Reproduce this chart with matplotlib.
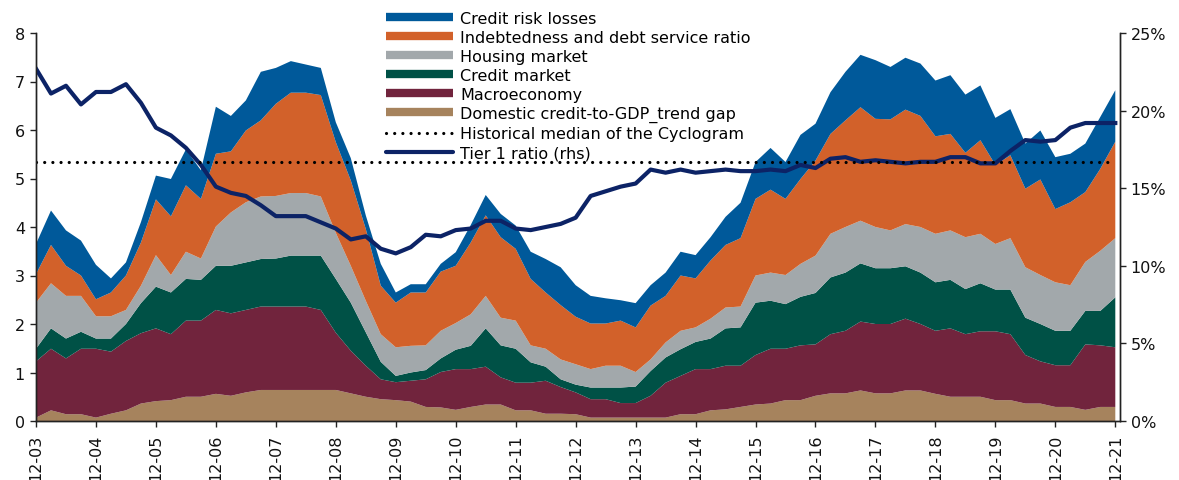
import numpy as np
import matplotlib
matplotlib.use("Agg")
import matplotlib.pyplot as plt
from matplotlib.lines import Line2D

# ---------------- data (quarterly, Dec-2003 .. Dec-2021) ----------------
tick_labels = ["12-03", "12-04", "12-05", "12-06", "12-07", "12-08", "12-09", "12-10",
               "12-11", "12-12", "12-13", "12-14", "12-15", "12-16", "12-17", "12-18",
               "12-19", "12-20", "12-21"]

# cumulative (stacked) upper boundary of each component, left axis units
level_gap = [0.07, 0.22, 0.14, 0.14, 0.07, 0.15, 0.22, 0.36, 0.41, 0.43, 0.50, 0.50, 0.56,
             0.52, 0.59, 0.64, 0.64, 0.64, 0.64, 0.64, 0.64, 0.57, 0.50, 0.45, 0.43, 0.40,
             0.29, 0.28, 0.23, 0.29, 0.34, 0.34, 0.22, 0.22, 0.15, 0.15, 0.14, 0.07, 0.07,
             0.07, 0.07, 0.07, 0.07, 0.14, 0.14, 0.22, 0.24, 0.29, 0.34, 0.36, 0.43, 0.43,
             0.52, 0.57, 0.57, 0.63, 0.57, 0.57, 0.63, 0.63, 0.56, 0.50, 0.50, 0.50, 0.43,
             0.43, 0.36, 0.36, 0.29, 0.29, 0.23, 0.29, 0.29]
level_macro = [1.23, 1.49, 1.29, 1.49, 1.49, 1.43, 1.65, 1.81, 1.91, 1.79, 2.07, 2.07, 2.29,
               2.22, 2.29, 2.36, 2.36, 2.36, 2.36, 2.29, 1.82, 1.45, 1.14, 0.86, 0.80, 0.83,
               0.86, 1.01, 1.07, 1.07, 1.12, 0.90, 0.79, 0.79, 0.83, 0.70, 0.59, 0.45, 0.45,
               0.37, 0.37, 0.52, 0.79, 0.93, 1.07, 1.07, 1.14, 1.14, 1.36, 1.49, 1.49, 1.56,
               1.58, 1.79, 1.86, 2.05, 2.00, 2.00, 2.11, 2.00, 1.86, 1.91, 1.79, 1.85, 1.85,
               1.79, 1.36, 1.23, 1.15, 1.15, 1.58, 1.56, 1.52]
level_credit = [1.49, 1.91, 1.70, 1.84, 1.70, 1.70, 2.00, 2.43, 2.77, 2.65, 2.93, 2.91, 3.20,
                3.20, 3.27, 3.34, 3.35, 3.41, 3.41, 3.41, 2.93, 2.44, 1.83, 1.22, 0.93, 1.00,
                1.05, 1.29, 1.47, 1.55, 1.91, 1.56, 1.49, 1.21, 1.12, 0.86, 0.75, 0.69, 0.69,
                0.69, 0.71, 1.03, 1.31, 1.48, 1.63, 1.70, 1.91, 1.93, 2.44, 2.48, 2.41, 2.56,
                2.64, 2.96, 3.06, 3.25, 3.15, 3.15, 3.19, 3.06, 2.86, 2.91, 2.72, 2.84, 2.71,
                2.71, 2.13, 2.00, 1.86, 1.86, 2.27, 2.27, 2.55]
level_housing = [2.44, 2.84, 2.58, 2.58, 2.16, 2.16, 2.29, 2.79, 3.42, 3.01, 3.49, 3.35, 4.01,
                 4.30, 4.51, 4.63, 4.64, 4.70, 4.70, 4.63, 3.88, 3.20, 2.48, 1.79, 1.52, 1.55,
                 1.56, 1.86, 2.02, 2.20, 2.58, 2.13, 2.07, 1.56, 1.49, 1.27, 1.17, 1.07, 1.14,
                 1.14, 1.01, 1.27, 1.62, 1.86, 1.93, 2.11, 2.34, 2.36, 3.00, 3.06, 3.01, 3.24,
                 3.41, 3.86, 4.00, 4.13, 4.00, 3.93, 4.06, 4.00, 3.86, 3.93, 3.79, 3.86, 3.65,
                 3.77, 3.17, 3.01, 2.86, 2.80, 3.28, 3.51, 3.77]
level_indebt = [3.03, 3.63, 3.20, 3.00, 2.51, 2.65, 3.00, 3.68, 4.57, 4.22, 4.86, 4.58, 5.51,
                5.56, 5.99, 6.20, 6.54, 6.77, 6.77, 6.72, 5.75, 4.96, 3.96, 2.79, 2.44, 2.65,
                2.65, 3.08, 3.20, 3.68, 4.24, 3.79, 3.55, 2.93, 2.65, 2.39, 2.15, 2.01, 2.01,
                2.07, 1.93, 2.38, 2.58, 3.00, 2.94, 3.31, 3.63, 3.77, 4.58, 4.77, 4.58, 4.99,
                5.37, 5.92, 6.20, 6.47, 6.23, 6.22, 6.42, 6.29, 5.87, 5.92, 5.53, 5.79, 5.28,
                5.48, 4.79, 4.98, 4.37, 4.51, 4.72, 5.20, 5.76]
level_risk = [3.65, 4.34, 3.93, 3.72, 3.22, 2.94, 3.27, 4.10, 5.06, 4.99, 5.60, 5.17, 6.48,
              6.29, 6.61, 7.20, 7.28, 7.42, 7.35, 7.28, 6.16, 5.42, 4.24, 3.24, 2.65, 2.82,
              2.82, 3.24, 3.48, 4.04, 4.66, 4.27, 4.03, 3.49, 3.34, 3.17, 2.80, 2.58, 2.53,
              2.49, 2.43, 2.80, 3.06, 3.49, 3.42, 3.79, 4.21, 4.50, 5.34, 5.63, 5.34, 5.90,
              6.13, 6.78, 7.20, 7.55, 7.44, 7.30, 7.49, 7.37, 7.02, 7.13, 6.73, 6.92, 6.25,
              6.43, 5.72, 5.99, 5.44, 5.51, 5.72, 6.27, 6.82]

tier1_ratio = [22.7, 21.1, 21.6, 20.4, 21.2, 21.2, 21.7, 20.5, 18.9, 18.4, 17.6, 16.5, 15.1,
               14.7, 14.5, 13.9, 13.2, 13.2, 13.2, 12.8, 12.4, 11.7, 11.9, 11.1, 10.8, 11.2,
               12.0, 11.9, 12.3, 12.4, 12.9, 12.9, 12.4, 12.3, 12.5, 12.7, 13.1, 14.5, 14.8,
               15.1, 15.3, 16.2, 16.0, 16.2, 16.0, 16.1, 16.2, 16.1, 16.1, 16.2, 16.1, 16.5,
               16.3, 16.9, 17.0, 16.7, 16.8, 16.7, 16.6, 16.7, 16.7, 17.0, 17.0, 16.6, 16.6,
               17.4, 18.1, 18.0, 18.1, 18.9, 19.2, 19.2, 19.2]

historical_median = 5.35

series_names = ["Domestic credit-to-GDP_trend gap", "Macroeconomy", "Credit market",
                "Housing market", "Indebtedness and debt service ratio", "Credit risk losses"]
series_colors = ["#a6835d", "#71243d", "#005146", "#a2a8ab", "#d2612a", "#00599a"]
tier1_color = "#0c2366"

# ---------------- figure ----------------
levels = np.array([level_gap, level_macro, level_credit, level_housing, level_indebt, level_risk])
components = np.diff(np.vstack([np.zeros(levels.shape[1]), levels]), axis=0)
x = np.arange(levels.shape[1])

plt.rcParams["font.family"] = ["DejaVu Sans"]
fig = plt.figure(figsize=(11.79, 4.81), dpi=100)
ax = fig.add_axes([36 / 1179, 1 - 422 / 481, (1119.5 - 36) / 1179, (422 - 34) / 481])
ax2 = ax.twinx()

ax.stackplot(x, components, colors=series_colors, linewidth=0)

y1max, y2max = 8, 25
ax2.plot(x, tier1_ratio, color=tier1_color, lw=3.0, solid_joinstyle="round")
ax2.plot([x[0], x[-1]], [historical_median * y2max / y1max] * 2, color="black",
         lw=2.3, linestyle=(0, (0.01, 2.55)), dash_capstyle="round")

ax.set_xlim(0, 72.28)
ax.set_ylim(0, y1max)
ax2.set_ylim(0, y2max)
ax.set_yticks(range(0, 9))
ax2.set_yticks(range(0, 26, 5))
ax2.set_yticklabels([f"{v}%" for v in range(0, 26, 5)])
ax.set_xticks(x[::4])
ax.set_xticklabels(tick_labels, rotation=90)

for a in (ax, ax2):
    a.spines["top"].set_visible(False)
    for s in a.spines.values():
        s.set_color("#222222")
        s.set_linewidth(1.0)
    a.tick_params(axis="both", length=4, width=1, color="#222222", labelsize=11.5,
                  labelcolor="#111111", pad=2)
ax.tick_params(axis="x", pad=5)
ax.tick_params(axis="y", pad=4)
ax2.tick_params(axis="y", pad=4)

patch_kw = dict(lw=6, solid_capstyle="butt")
handles = [Line2D([], [], color=series_colors[5], **patch_kw),
           Line2D([], [], color=series_colors[4], **patch_kw),
           Line2D([], [], color=series_colors[3], **patch_kw),
           Line2D([], [], color=series_colors[2], **patch_kw),
           Line2D([], [], color=series_colors[1], **patch_kw),
           Line2D([], [], color=series_colors[0], **patch_kw),
           Line2D([], [], color="black", lw=2.3, linestyle=(0, (0.01, 2.55)),
                  dash_capstyle="round"),
           Line2D([], [], color=tier1_color, lw=3.0, solid_capstyle="round")]
labels = [series_names[5], series_names[4], series_names[3], series_names[2],
          series_names[1], series_names[0], "Historical median of the Cyclogram",
          "Tier 1 ratio (rhs)"]
leg = fig.legend(handles, labels, loc="upper left", bbox_to_anchor=(386 / 1179, 1 - 12 / 481),
                 frameon=False, fontsize=11.5, handlelength=4.2, handletextpad=0.45,
                 labelspacing=0.25, borderaxespad=0, borderpad=0)

fig.savefig("out.png", dpi=100)
